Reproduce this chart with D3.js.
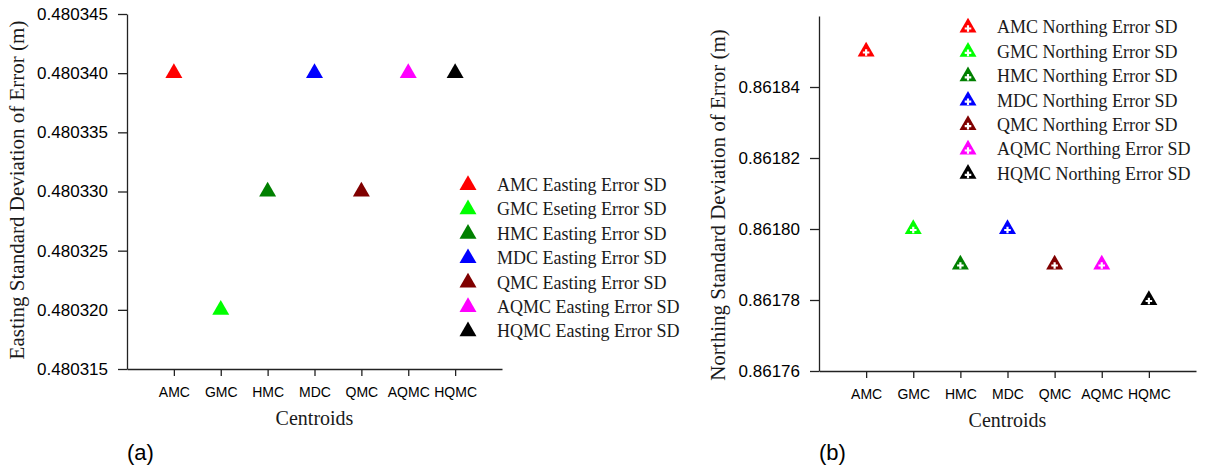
<!DOCTYPE html>
<html>
<head>
<meta charset="utf-8">
<script src="https://cdn.jsdelivr.net/npm/d3@7"></script>
<style>
  body { margin: 0; background: #fff; }
  .axis path, .axis line { stroke: #222; stroke-width: 1.3; }
  .axis text { font-family: Arial, "Liberation Sans", sans-serif; fill: #000; }
  .serif { font-family: "Times New Roman", "Liberation Serif", serif; fill: #1a1a1a; }
</style>
</head>
<body>
<div id="chart"></div>
<script>
// Centroid names along the x axis
const centroids = ["AMC", "GMC", "HMC", "MDC", "QMC", "AQMC", "HQMC"];

// One colour per centroid
const colors = ["#ff0000", "#00ff00", "#008000", "#0000ff", "#800000", "#ff00ff", "#000000"];

// Panel (a): easting SD values
const eastingValues = [0.480340, 0.480320, 0.480330, 0.480340, 0.480330, 0.480340, 0.480340];
const eastingLegend = [
  "AMC Easting Error SD", "GMC Eseting Error SD", "HMC Easting Error SD",
  "MDC Easting Error SD", "QMC Easting Error SD", "AQMC Easting Error SD",
  "HQMC Easting Error SD"
];
const eastingTicks = [0.480315, 0.480320, 0.480325, 0.480330, 0.480335, 0.480340, 0.480345];

// Panel (b): northing SD values
const northingValues = [0.86185, 0.86180, 0.86179, 0.86180, 0.86179, 0.86179, 0.86178];
const northingLegend = [
  "AMC Northing Error SD", "GMC Northing Error SD", "HMC Northing Error SD",
  "MDC Northing Error SD", "QMC Northing Error SD", "AQMC Northing Error SD",
  "HQMC Northing Error SD"
];
const northingTicks = [0.86176, 0.86178, 0.86180, 0.86182, 0.86184];

const svg = d3.select("#chart")
  .append("svg")
  .attr("width", 1205)
  .attr("height", 470);

const tri = d3.symbol().type(d3.symbolTriangle).size(125);
const plus = d3.symbol().type(d3.symbolCross).size(24);

/**
 * Draws one scatter panel
 */
function drawPanel(cfg) {
  const g = svg.append("g");

  const x = d3.scalePoint()
    .domain(centroids)
    .range([cfg.left, cfg.right])
    .padding(1);

  const y = d3.scaleLinear()
    .domain(cfg.domain)
    .range([cfg.bottom, cfg.top]);

  // x axis
  g.append("g")
    .attr("class", "axis")
    .attr("transform", `translate(0, ${cfg.bottom})`)
    .call(d3.axisBottom(x).tickSizeInner(7).tickSizeOuter(0).tickPadding(11))
    .selectAll("text")
    .style("font-size", "14px");

  // y axis
  g.append("g")
    .attr("class", "axis")
    .attr("transform", `translate(${cfg.left}, 0)`)
    .call(d3.axisLeft(y)
      .tickValues(cfg.ticks)
      .tickFormat(d3.format(cfg.fmt))
      .tickSizeInner(9)
      .tickSizeOuter(0)
      .tickPadding(10))
    .selectAll("text")
    .style("font-size", "17px");

  // axis names
  g.append("text")
    .attr("class", "serif")
    .attr("text-anchor", "middle")
    .attr("x", (cfg.left + cfg.right) / 2)
    .attr("y", cfg.bottom + 56)
    .style("font-size", "20px")
    .text("Centroids");

  g.append("text")
    .attr("class", "serif")
    .attr("text-anchor", "middle")
    .attr("transform", `translate(${cfg.yLabelX}, ${cfg.yLabelY}) rotate(-90)`)
    .attr("dy", "0.35em")
    .style("font-size", "21px")
    .text(cfg.yLabel);

  // panel letter
  g.append("text")
    .attr("x", cfg.left)
    .attr("y", 460)
    .style("font-family", "Arial, 'Liberation Sans', sans-serif")
    .style("font-size", "22px")
    .style("fill", "#000")
    .text(cfg.letter);

  // points
  g.selectAll(".pt")
    .data(cfg.values)
    .join("path")
    .attr("class", "pt")
    .attr("transform", (d, i) => `translate(${x(centroids[i])}, ${y(d)})`)
    .attr("d", tri)
    .attr("fill", (d, i) => colors[i]);

  if (cfg.hollow) {
    g.selectAll(".pt-in")
      .data(cfg.values)
      .join("path")
      .attr("class", "pt-in")
      .attr("transform", (d, i) => `translate(${x(centroids[i])}, ${y(d) + 1})`)
      .attr("d", plus)
      .attr("fill", "#fff");
  }

  // legend
  const leg = g.selectAll(".leg")
    .data(cfg.legend)
    .join("g")
    .attr("class", "leg")
    .attr("transform", (d, i) => `translate(${cfg.legX}, ${cfg.legY + i * 24.4})`);

  leg.append("path")
    .attr("d", tri)
    .attr("fill", (d, i) => colors[i]);

  if (cfg.hollow) {
    leg.append("path")
      .attr("transform", "translate(0, 1)")
      .attr("d", plus)
      .attr("fill", "#fff");
  }

  leg.append("text")
    .attr("class", "serif")
    .attr("x", 29)
    .attr("dy", "0.33em")
    .style("font-size", "18px")
    .text(d => d);
}

drawPanel({
  left: 127, right: 502, top: 14, bottom: 369,
  domain: [0.480315, 0.480345],
  ticks: eastingTicks, fmt: ".6f",
  values: eastingValues, legend: eastingLegend,
  legX: 468, legY: 185,
  yLabel: "Easting Standard Deviation of Error (m)",
  yLabelX: 17, yLabelY: 190,
  letter: "(a)", hollow: false
});

drawPanel({
  left: 819, right: 1196, top: 16, bottom: 371,
  domain: [0.86176, 0.86186],
  ticks: northingTicks, fmt: ".5f",
  values: northingValues, legend: northingLegend,
  legX: 968, legY: 27.5,
  yLabel: "Northing Standard Deviation of Error (m)",
  yLabelX: 718, yLabelY: 205,
  letter: "(b)", hollow: true
});
</script>
</body>
</html>
